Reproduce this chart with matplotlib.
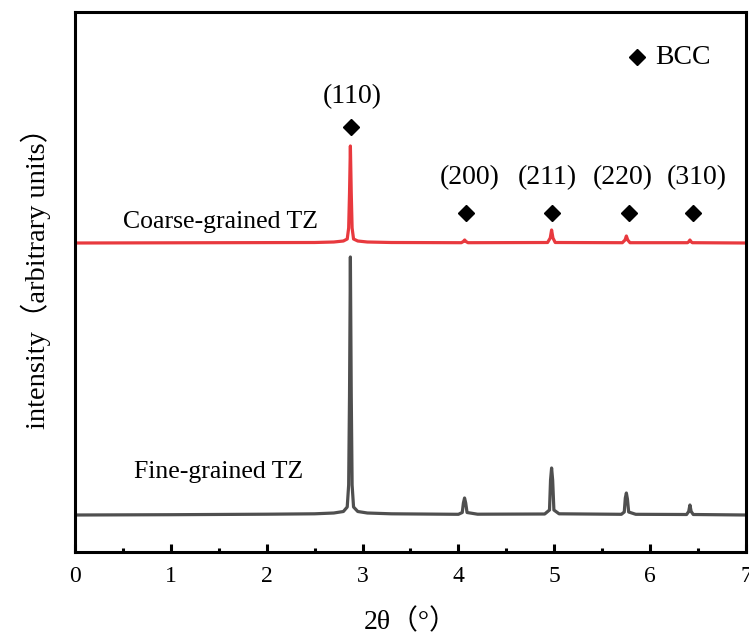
import numpy as np
import matplotlib
matplotlib.use("Agg")
import matplotlib.pyplot as plt
from matplotlib.ticker import MultipleLocator

plt.rcParams["font.family"] = ["Liberation Serif", "Noto Sans CJK SC", "DejaVu Sans"]

# fine-grained TZ profile (2theta, intensity above baseline, arbitrary units)
fine_x = [0.0, 1.0, 2.0, 2.5, 2.7, 2.8, 2.84, 2.855, 2.864, 2.873, 2.882, 2.891, 2.906, 2.95, 3.05, 3.3,
          4.0, 4.04, 4.052, 4.064, 4.076, 4.09, 4.2,
          4.9, 4.95, 4.961, 4.972, 4.983, 4.996, 5.05,
          5.7, 5.73, 5.741, 5.752, 5.763, 5.776, 5.85,
          6.38, 6.402, 6.415, 6.428, 6.45, 7.0]
fine_y = [0.0, 0.3, 0.8, 1.2, 2.0, 3.5, 8.0, 30.0, 120.0, 258.0, 120.0, 30.0, 8.0, 3.5, 2.0, 1.2,
          0.7, 2.5, 12.0, 17.0, 12.0, 2.5, 0.8,
          1.0, 5.0, 35.0, 47.0, 35.0, 5.0, 1.2,
          0.7, 3.0, 17.0, 22.0, 16.0, 3.0, 0.7,
          0.5, 3.5, 10.0, 3.5, 0.5, 0.0]

# coarse-grained TZ profile
coarse_x = [0.0, 2.5, 2.7, 2.8, 2.84, 2.855, 2.864, 2.873, 2.882, 2.891, 2.906, 2.95, 3.05, 3.3,
            4.03, 4.052, 4.065, 4.078, 4.1,
            4.93, 4.958, 4.972, 4.986, 5.01,
            5.71, 5.738, 5.752, 5.766, 5.79,
            6.39, 6.405, 6.415, 6.425, 6.44, 7.0]
coarse_y = [0.0, 0.5, 1.0, 2.0, 4.0, 15.0, 50.0, 97.0, 50.0, 15.0, 4.0, 2.0, 1.0, 0.5,
            0.3, 1.5, 3.0, 1.5, 0.3,
            0.5, 5.0, 13.0, 5.0, 0.5,
            0.3, 3.0, 7.0, 3.0, 0.3,
            0.3, 1.5, 3.0, 1.5, 0.3, 0.0]
coarse_offset = 272

# reflection labels
hkl_labels = ["(110)", "(200)", "(211)", "(220)", "(310)"]
hkl_text_x = [2.89, 4.12, 4.93, 5.71, 6.49]
hkl_text_y = [418, 337, 337, 337, 337]
hkl_mark_x = [2.88, 4.08, 4.98, 5.78, 6.45]
hkl_mark_y = [388, 302, 302, 302, 302]

red = "#e8393e"
gray = "#4f4f4f"

fig = plt.figure(figsize=(7.49, 6.35), dpi=100)
ax = fig.add_axes([0.1001, 0.1307, 0.8959, 0.8504])

ax.plot(fine_x, fine_y, color=gray, lw=2.3, solid_joinstyle="round")
ax.plot(coarse_x, np.array(coarse_y) + coarse_offset, color=red, lw=2.3,
        solid_joinstyle="round")

ax.text(0.50, 293, "Coarse-grained TZ", fontsize=18.5, va="center", ha="left")
ax.text(0.62, 43, "Fine-grained TZ", fontsize=18.5, va="center", ha="left")

for lab, tx, ty in zip(hkl_labels, hkl_text_x, hkl_text_y):
    ax.text(tx, ty, lab, fontsize=20, ha="center", va="center")
ax.plot(hkl_mark_x, hkl_mark_y, ls="none", marker="D", ms=8.5, color="black")

# BCC key
ax.plot([5.86], [458], ls="none", marker="D", ms=8.5, color="black")
ax.text(6.05, 458, "BCC", fontsize=20, ha="left", va="center")

ax.set_xlim(0, 7)
ax.set_ylim(-37, 503)
ax.xaxis.set_major_locator(MultipleLocator(1))
ax.xaxis.set_minor_locator(MultipleLocator(0.5))
ax.tick_params(axis="x", which="both", direction="in", width=2.2, labelsize=17, pad=10)
ax.tick_params(axis="x", which="major", length=6)
ax.tick_params(axis="x", which="minor", length=3)
ax.set_yticks([])
for s in ax.spines.values():
    s.set_linewidth(2.2)

ax.set_xlabel("2θ（°）", fontsize=20, labelpad=16)
ax.set_ylabel("intensity（arbitrary units）", fontsize=20.5)
ax.yaxis.set_label_coords(-0.036, 0.52)

fig.savefig("out.png", dpi=100)
